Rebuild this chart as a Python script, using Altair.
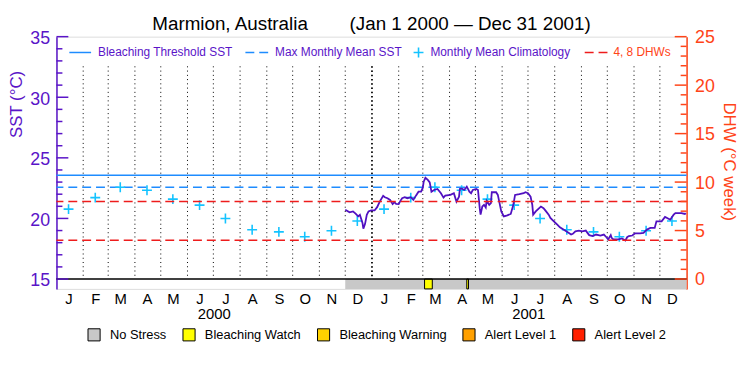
import altair as alt
import pandas as pd

# ---------------- data ----------------
TITLE = "Marmion, Australia" + "\u00a0" * 8 + "(Jan 1 2000 \u2014 Dec 31 2001)"

sst_dates = [
    "2000-12-01", "2000-12-06", "2000-12-10", "2000-12-13", "2000-12-16", "2000-12-18",
    "2000-12-21", "2000-12-22", "2000-12-24", "2000-12-26", "2000-12-28", "2000-12-31",
    "2001-01-04", "2001-01-07", "2001-01-10", "2001-01-14", "2001-01-16", "2001-01-19",
    "2001-01-22", "2001-01-25", "2001-01-27", "2001-01-29",
    "2001-02-01", "2001-02-03", "2001-02-05", "2001-02-08", "2001-02-11", "2001-02-15",
    "2001-02-18", "2001-02-21", "2001-02-24", "2001-02-27",
    "2001-03-01", "2001-03-02", "2001-03-04", "2001-03-07", "2001-03-09", "2001-03-11",
    "2001-03-14", "2001-03-18", "2001-03-22", "2001-03-25", "2001-03-27",
    "2001-04-02", "2001-04-06", "2001-04-09", "2001-04-12", "2001-04-13", "2001-04-15",
    "2001-04-18", "2001-04-21", "2001-04-24", "2001-04-26", "2001-04-28",
    "2001-05-02", "2001-05-04", "2001-05-06", "2001-05-07", "2001-05-09", "2001-05-11",
    "2001-05-13", "2001-05-14", "2001-05-17", "2001-05-19", "2001-05-20", "2001-05-25",
    "2001-05-27", "2001-05-29", "2001-05-31",
    "2001-06-03", "2001-06-07", "2001-06-11", "2001-06-14", "2001-06-16", "2001-06-21",
    "2001-06-26", "2001-06-28",
    "2001-07-01", "2001-07-04", "2001-07-06", "2001-07-07", "2001-07-10", "2001-07-14",
    "2001-07-16", "2001-07-19", "2001-07-22", "2001-07-25", "2001-07-27", "2001-07-31",
    "2001-08-04", "2001-08-07", "2001-08-13", "2001-08-17", "2001-08-20", "2001-08-22",
    "2001-08-25", "2001-08-29",
    "2001-09-02", "2001-09-06", "2001-09-08", "2001-09-10", "2001-09-14", "2001-09-18",
    "2001-09-23", "2001-09-27", "2001-09-30",
    "2001-10-02", "2001-10-05", "2001-10-06", "2001-10-08", "2001-10-14", "2001-10-18",
    "2001-10-22", "2001-10-24", "2001-10-26", "2001-10-30",
    "2001-11-02", "2001-11-08", "2001-11-12", "2001-11-16", "2001-11-20", "2001-11-25",
    "2001-11-27",
    "2001-12-03", "2001-12-07", "2001-12-11", "2001-12-13", "2001-12-17", "2001-12-19",
    "2001-12-26", "2001-12-30", "2001-12-31",
]
sst_values = [
    20.71, 20.50, 20.58, 20.39, 20.17, 20.30, 19.63, 19.16, 19.55, 20.30, 20.58, 20.66,
    20.66, 20.93, 21.39, 21.86, 21.75, 21.67, 21.53, 21.18, 21.34, 21.20,
    21.18, 21.45, 21.67, 21.75, 21.67, 21.75, 21.53, 21.88, 22.21, 22.21,
    22.54, 23.03, 23.36, 23.16, 22.97, 22.21, 22.35, 22.43, 22.08, 21.72, 21.88,
    21.94, 22.08, 21.39, 21.80, 22.43, 22.48, 22.35, 22.62, 22.21, 22.08, 22.35,
    22.43, 22.35, 20.85, 20.31, 20.98, 21.12, 20.90, 21.45, 21.12, 21.26, 22.16, 22.16,
    21.94, 21.26, 20.58,
    20.17, 20.25, 20.37, 21.12, 21.94, 22.00, 22.08, 22.16,
    22.08, 21.80, 21.12, 20.31, 20.58, 20.85, 20.98, 20.85, 20.58, 20.31, 20.04, 19.76,
    19.49, 19.27, 19.00, 18.81, 18.67, 18.73, 18.94, 19.00,
    18.94, 19.00, 18.81, 18.62, 18.54, 18.67, 18.59, 18.67, 18.45,
    18.27, 18.62, 18.40, 18.27, 18.27, 18.35, 18.18, 18.45, 18.54, 18.59,
    18.76, 18.76, 18.81, 19.08, 19.22, 19.22, 19.76,
    19.76, 20.12, 19.98, 19.90, 20.31, 20.44, 20.44, 20.37, 20.44,
]

years = [2000, 2001]
month_numbers = list(range(1, 13))
clim_values = [20.77, 21.72, 22.57, 22.32, 21.59, 21.10, 20.00, 19.06, 18.89, 18.49, 18.98, 19.79]

MMM = 22.57
THRESHOLD = 23.57
DHW_LINES = [4, 8]

status_start = ["2000-12-01", "2001-03-03", "2001-04-21"]
status_end = ["2002-01-01", "2001-03-12", "2001-04-23"]
status_level = ["No Stress", "Bleaching Watch", "Bleaching Watch"]

levels = ["No Stress", "Bleaching Watch", "Bleaching Warning", "Alert Level 1", "Alert Level 2"]
level_colors = ["#C8C8C8", "#FFFF00", "#FFD200", "#FFA000", "#FF2000"]

sst_ticks_major = [15, 20, 25, 30, 35]
sst_ticks_minor = [v for v in range(16, 35) if v % 5]
dhw_ticks_major = [0, 5, 10, 15, 20, 25]
dhw_ticks_minor = [v for v in range(1, 25) if v % 5]

legend_labels = ["Bleaching Threshold SST", "Max Monthly Mean SST", "Monthly Mean Climatology", "4, 8 DHWs"]

# ---------------- layout / style ----------------
W, H = 637, 255
BAR_H = 10
PX_SST = 12.25
PX_DHW = 9.8
sst_scale = alt.Scale(domain=[15 - BAR_H / PX_SST, 35], nice=False, zero=False)
dhw_scale = alt.Scale(domain=[0 - BAR_H / PX_DHW, 25], nice=False, zero=False)
x_scale = alt.Scale(domain=[alt.DateTime(year=2000, month=1, date=1),
                            alt.DateTime(year=2002, month=1, date=1)])

FONT = "Liberation Sans"
PURPLE = "#5A14C8"
SST_COLOR = "#5010C0"
BLUE = "#1E8CFF"
CYAN = "#14C3FF"
RED = "#EE1C1C"
AXIS_RED = "#FF4418"
CROSS = "M-1,0L1,0M0,-1L0,1"

# ---------------- frames ----------------
df_sst = pd.DataFrame({"date": pd.to_datetime(sst_dates), "sst": sst_values})
df_clim = pd.DataFrame({
    "date": [pd.Timestamp(y, m, 15) for y in years for m in month_numbers],
    "sst": [clim_values[m - 1] for y in years for m in month_numbers],
})
df_grid = pd.DataFrame({"date": pd.date_range("2000-02-01", "2001-12-01", freq="MS")})
df_year = pd.DataFrame({"date": [pd.Timestamp(2001, 1, 1)]})
df_status = pd.DataFrame({"start": pd.to_datetime(status_start),
                          "end": pd.to_datetime(status_end),
                          "level": status_level})
df_years = pd.DataFrame({"date": [pd.Timestamp(y, 7, 2) for y in years],
                         "label": [str(y) for y in years]})

month_axis = alt.Axis(
    values=[alt.DateTime(year=y, month=m, date=15) for y in years for m in month_numbers],
    labelExpr="slice(timeFormat(datum.value, '%b'), 0, 1)",
    ticks=False, tickSize=0, domain=False, grid=False, title=None,
    labelFontSize=15, labelColor="black", labelPadding=3, labelFont=FONT,
    labelFlush=False, labelOverlap=False, labelBound=False,
)
sst_axis = alt.Axis(
    values=sst_ticks_major, ticks=False, tickSize=0, grid=False,
    domainColor=PURPLE, domainWidth=1.5, labelColor=PURPLE, labelFontSize=18,
    labelPadding=7, labelFont=FONT, labelOffset=2,
    title="SST (\u00b0C)", titleColor=PURPLE, titleFontSize=17, titleFontWeight="normal",
    titleFont=FONT, titleAngle=270, titleX=-40, titleY=68, titleAlign="center",
    titleBaseline="middle",
)
dhw_axis = alt.Axis(
    orient="right", values=dhw_ticks_major, ticks=False, tickSize=0, grid=False,
    domainColor=AXIS_RED, domainWidth=1.5, labelColor=AXIS_RED, labelFontSize=18,
    labelPadding=8, labelFont=FONT, labelOffset=1,
    title="DHW (\u00b0C week)", titleColor=AXIS_RED, titleFontSize=17, titleFontWeight="normal",
    titleFont=FONT, titleAngle=90, titleX=42, titleY=126, titleAlign="center",
    titleBaseline="middle",
)


def X(field):
    return alt.X(field, scale=x_scale, axis=month_axis, title=None)


def YS(field):
    return alt.Y(field, scale=sst_scale, axis=sst_axis, title="SST (\u00b0C)")


def YD(field):
    return alt.Y(field, scale=dhw_scale, axis=dhw_axis, title="DHW (\u00b0C week)")


# ---------------- SST group ----------------
grid = alt.Chart(df_grid).mark_rule(color="black", strokeDash=[1, 3.3], strokeWidth=1).encode(
    x=X("date:T"), y=alt.value(30), y2=alt.value(H - BAR_H),
)
year_rule = alt.Chart(df_year).mark_rule(color="black", strokeDash=[1.5, 2.8], strokeWidth=1.6).encode(
    x=X("date:T"), y=alt.value(30), y2=alt.value(H - BAR_H),
)
thr = alt.Chart(pd.DataFrame({"sst": [THRESHOLD]})).mark_rule(color=BLUE, strokeWidth=1.5).encode(
    y=YS("sst:Q"))
mmm = alt.Chart(pd.DataFrame({"sst": [MMM]})).mark_rule(
    color=BLUE, strokeWidth=1.5, strokeDash=[9, 5]).encode(y=YS("sst:Q"))
base15 = alt.Chart(pd.DataFrame({"sst": [15]})).mark_rule(color="black", strokeWidth=1.5).encode(
    y=YS("sst:Q"))

color_scale = alt.Scale(domain=levels, range=level_colors)
status_legend = alt.Legend(orient="none", legendX=31, legendY=294, direction="horizontal",
                           symbolType="square", symbolSize=150, symbolStrokeColor="black",
                           symbolStrokeWidth=1, symbolOpacity=1, labelFontSize=13,
                           labelFont=FONT, labelColor="black", labelOffset=9,
                           columnPadding=13, title=None, padding=0)
status_grey = alt.Chart(df_status[df_status.level == "No Stress"]).mark_rect().encode(
    x=X("start:T"), x2="end:T",
    y=alt.value(H - BAR_H), y2=alt.value(H),
    color=alt.Color("level:N", scale=color_scale, legend=status_legend),
)
status_alert = alt.Chart(df_status[df_status.level != "No Stress"]).mark_rect(
    stroke="black", strokeWidth=1).encode(
    x=X("start:T"), x2="end:T",
    y=alt.value(H - BAR_H), y2=alt.value(H),
    color=alt.Color("level:N", scale=color_scale, legend=status_legend),
)

clim = alt.Chart(df_clim).mark_point(shape=CROSS, size=100, filled=False, strokeWidth=1.6,
                                     color=CYAN, opacity=1).encode(
    x=X("date:T"), y=YS("sst:Q"))
line = alt.Chart(df_sst).mark_line(color=SST_COLOR, strokeWidth=1.8).encode(
    x=X("date:T"), y=YS("sst:Q"))
sst_minor = alt.Chart(pd.DataFrame({"sst": sst_ticks_minor})).mark_rule(color=PURPLE, strokeWidth=1.5).encode(
    y=YS("sst:Q"), x=alt.value(0), x2=alt.value(6))
sst_major = alt.Chart(pd.DataFrame({"sst": sst_ticks_major})).mark_rule(color=PURPLE, strokeWidth=1.5).encode(
    y=YS("sst:Q"), x=alt.value(0), x2=alt.value(12))

year_text = alt.Chart(df_years).mark_text(fontSize=15, font=FONT, color="black", baseline="middle").encode(
    x=X("date:T"), y=alt.value(280), text="label:N")

title = alt.Chart(pd.DataFrame({"t": [TITLE]})).mark_text(
    fontSize=19, font=FONT, color="black", baseline="alphabetic", align="center").encode(
    x=alt.value(W / 2), y=alt.value(-7), text="t:N")

# top legend
LY = 16
one = pd.DataFrame({"k": [0]})
leg_line = alt.Chart(one).mark_rule(color=BLUE, strokeWidth=1.5).encode(
    x=alt.value(13), x2=alt.value(35), y=alt.value(LY))
leg_dash = alt.Chart(one).mark_rule(color=BLUE, strokeWidth=1.5, strokeDash=[9, 5]).encode(
    x=alt.value(191), x2=alt.value(214), y=alt.value(LY))
leg_cross = alt.Chart(one).mark_point(shape=CROSS, size=100, filled=False,
                                      strokeWidth=1.6, color=CYAN, opacity=1).encode(
    x=alt.value(366), y=alt.value(LY))
leg_red = alt.Chart(one).mark_rule(color=RED, strokeWidth=1.5, strokeDash=[9, 5]).encode(
    x=alt.value(534), x2=alt.value(557), y=alt.value(LY))
leg_texts = []
for lab, xpos, col in zip(legend_labels, [42, 221, 378, 563], [PURPLE, PURPLE, PURPLE, AXIS_RED]):
    leg_texts.append(
        alt.Chart(pd.DataFrame({"t": [lab]})).mark_text(
            fontSize=12, font=FONT, color=col, align="left", baseline="middle").encode(
            x=alt.value(xpos), y=alt.value(LY), text="t:N"))

sst_group = alt.layer(
    grid, year_rule, thr, mmm, clim, status_grey, status_alert, base15, line,
    sst_minor, sst_major, year_text, title, leg_line, leg_dash, leg_cross, leg_red, *leg_texts,
)

# ---------------- DHW group ----------------
dhw_rules = alt.Chart(pd.DataFrame({"dhw": DHW_LINES})).mark_rule(
    color=RED, strokeWidth=1.5, strokeDash=[9, 5]).encode(y=YD("dhw:Q"))
dhw_minor = alt.Chart(pd.DataFrame({"dhw": dhw_ticks_minor})).mark_rule(color=AXIS_RED, strokeWidth=1.5).encode(
    y=YD("dhw:Q"), x=alt.value(W), x2=alt.value(W - 6))
dhw_major = alt.Chart(pd.DataFrame({"dhw": dhw_ticks_major})).mark_rule(color=AXIS_RED, strokeWidth=1.5).encode(
    y=YD("dhw:Q"), x=alt.value(W), x2=alt.value(W - 12))
dhw_group = alt.layer(dhw_rules, dhw_minor, dhw_major)

chart = alt.layer(sst_group, dhw_group).resolve_scale(y="independent").properties(
    width=W, height=H,
    padding={"left": 49, "top": 27, "right": 56, "bottom": 80},
    autosize=alt.AutoSizeParams(type="none"),
).configure_view(stroke="black", strokeWidth=1.5).configure(font=FONT)

chart.save("out.html", embed_options={"renderer": "svg", "actions": False})
